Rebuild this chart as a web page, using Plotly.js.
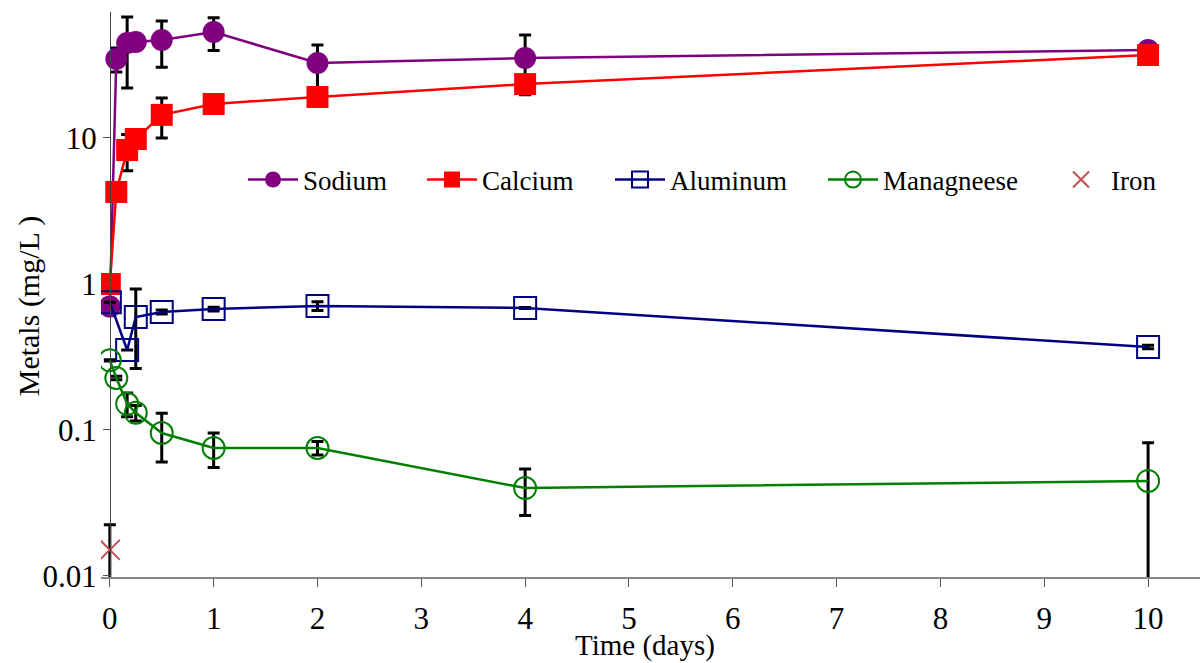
<!DOCTYPE html>
<html>
<head>
<meta charset="utf-8">
<script src="https://cdn.plot.ly/plotly-3.0.1.min.js"></script>
<style>html,body{margin:0;padding:0;background:#fff;}#chart{width:1202px;height:663px;}</style>
</head>
<body>
<div id="chart"></div>
<script>
// Time points (days)
const timeMain = [0, 0.0625, 0.167, 0.25, 0.5, 1, 2, 4, 10];
const timeAl = [0, 0.167, 0.25, 0.5, 1, 2, 4, 10];
const timeFe = [0];

// Concentrations (mg/L)
const sodium = [0.70, 34.8, 44.7, 45.5, 46.9, 53.2, 32.6, 35.3, 40.1];
const sodiumErr = [null, 6.5, 22.7, null, 16.4, 13.5, 10.8, 15.5, null];
const calcium = [1.0, 4.27, 8.27, 9.84, 14.4, 17.1, 19.1, 23.4, 37.0];
const calciumErr = [null, null, 2.3, null, 4.4, null, null, 3, null];
const aluminum = [0.75, 0.353, 0.594, 0.643, 0.674, 0.707, 0.685, 0.37];
const aluminumErr = [null, null, 0.33, 0.02, 0.02, 0.05, 0.005, 0.01];
const manganese = [0.30, 0.227, 0.151, 0.131, 0.0953, 0.0753, 0.0753, 0.040, 0.0448];
const manganeseErr = [0.003, 0.006, 0.028, 0.016, 0.035, 0.02, 0.008, 0.014, 0.037];
const iron = [0.0151];
const ironErr = [0.0073];

const xTicks = [0,1,2,3,4,5,6,7,8,9,10];
const yTicks = [0.01, 0.1, 1, 10];
const yTickText = ['0.01', '0.1', '1', '10'];

const FONT = 'Liberation Serif, Times New Roman, serif';

function err(arr) {
  return {type: 'data', array: arr, symmetric: true, color: '#000000', thickness: 3, width: 6};
}

const traces = [
  {x: timeMain, y: sodium, name: 'Sodium', mode: 'lines+markers', legend: 'legend',
   line: {color: '#800080', width: 2.5}, marker: {symbol: 'circle', size: 22, color: '#800080'},
   error_y: err(sodiumErr)},
  {x: timeMain, y: calcium, name: 'Calcium', mode: 'lines+markers', legend: 'legend2',
   line: {color: '#ff0000', width: 2.5}, marker: {symbol: 'square', size: 22, color: '#ff0000'},
   error_y: err(calciumErr)},
  {x: timeAl, y: aluminum, name: 'Aluminum', mode: 'lines+markers', legend: 'legend3',
   line: {color: '#000080', width: 2.5},
   marker: {symbol: 'square-open', size: 22, color: '#000080', line: {width: 2}},
   error_y: err(aluminumErr)},
  {x: timeMain, y: manganese, name: 'Managneese', mode: 'lines+markers', legend: 'legend4',
   line: {color: '#008000', width: 2.5},
   marker: {symbol: 'circle-open', size: 22, color: '#008000', line: {width: 2}},
   error_y: err(manganeseErr)},
  {x: timeFe, y: iron, name: 'Iron', mode: 'markers', legend: 'legend5',
   marker: {symbol: 'x-thin-open', size: 20, color: '#c0504d', line: {width: 2, color: '#c0504d'}},
   error_y: err(ironErr)}
];

const xmin = -0.085, xmax = 10.5;

function leg(px) {
  return {x: (px - 101) / 1099, y: 0.7027, xanchor: 'left', yanchor: 'middle',
          orientation: 'h', bgcolor: 'rgba(0,0,0,0)', borderwidth: 0,
          font: {family: FONT, size: 27, color: '#000'}, itemwidth: 50};
}

const layout = {
  width: 1202, height: 663,
  margin: {l: 101, r: 2, t: 12, b: 86},
  paper_bgcolor: '#fff', plot_bgcolor: '#fff',
  font: {family: FONT, size: 30, color: '#000'},
  showlegend: true,
  legend: leg(243),
  legend2: leg(422),
  legend3: leg(610),
  legend4: leg(823),
  legend5: leg(1051),
  xaxis: {
    range: [xmin, xmax], tickvals: xTicks, ticktext: xTicks.map(String),
    showgrid: false, zeroline: false, showline: true, linecolor: '#888', linewidth: 2,
    ticks: 'outside', ticklen: 8, tickcolor: '#555', tickwidth: 1,
    tickfont: {family: FONT, size: 31, color: '#000'}, ticklabelstandoff: 5
  },
  yaxis: {
    type: 'log', range: [-2.007, 1.863], tickvals: yTicks, ticktext: yTickText,
    anchor: 'free', position: (0 - xmin) / (xmax - xmin),
    showgrid: false, zeroline: false, showline: true, linecolor: '#444', linewidth: 1.5,
    ticks: 'outside', ticklen: 7, tickcolor: '#555', tickwidth: 1,
    tickfont: {family: FONT, size: 31, color: '#000'}, ticklabelstandoff: 0
  },
  annotations: [
    {text: 'Time (days)', xref: 'paper', yref: 'paper', x: 0.495, y: -0.122,
     xanchor: 'center', yanchor: 'middle', showarrow: false,
     font: {family: FONT, size: 29, color: '#000'}},
    {text: 'Metals (mg/L )', xref: 'paper', yref: 'paper', x: -0.066, y: 0.48,
     xanchor: 'center', yanchor: 'middle', showarrow: false, textangle: -90,
     font: {family: FONT, size: 30, color: '#000'}}
  ]
};

Plotly.newPlot('chart', traces, layout, {displayModeBar: false, staticPlot: true});
</script>
</body>
</html>
